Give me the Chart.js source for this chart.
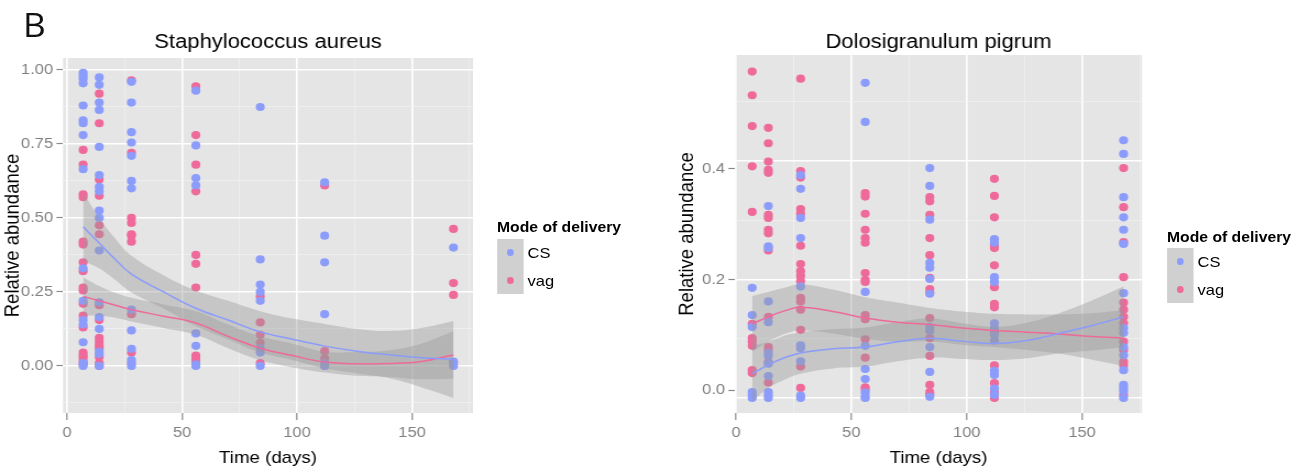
<!DOCTYPE html>
<html>
<head>
<meta charset="utf-8">
<title>Relative abundance over time by mode of delivery</title>
<script src="https://cdn.jsdelivr.net/npm/chart.js@4.4.1/dist/chart.umd.min.js"></script>
<style>
  html, body { margin: 0; padding: 0; background: #fff; width: 1308px; height: 473px; overflow: hidden; }
  /* the figure is laid out on a 1189px grid and widened to the full page */
  #page { position: absolute; left: 0; top: 0; width: 1189px; height: 473px;
          transform: scaleX(1.1); transform-origin: 0 0;
          font-family: "Liberation Sans", Arial, sans-serif; }
  #page canvas { position: absolute; top: 0; }
  #tag { position: absolute; left: 21px; top: 9px; font: 32px/32px "Open Sans", sans-serif; color: #111; }
  .lg-title { position: absolute; font-weight: bold; font-size: 14.3px; line-height: 14.3px; color: #000; white-space: nowrap; }
  .lg-key { position: absolute; width: 24.5px; height: 27.5px; background: #d0d0d0; }
  .lg-dot { position: absolute; left: 50%; top: 50%; width: 6.6px; height: 6.6px; margin: -3.3px 0 0 -3.3px; border-radius: 50%; }
  .lg-label { position: absolute; font-size: 15px; line-height: 15px; color: #000; white-space: nowrap; }
</style>
</head>
<body>
<div id="page">
  <div id="tag">B</div>
  <canvas id="aureus" width="436" height="473" style="left:0;width:436px;height:473px"></canvas>
  <canvas id="pigrum" width="436" height="473" style="left:609px;width:436px;height:473px"></canvas>
</div>
<script>
Chart.defaults.font.family = '"Liberation Sans", Arial, sans-serif';

// ---- sampling design ----
const days = [7, 14, 28, 56, 84, 112, 168];
const groups = ['CS', 'vag'];
const groupColors = ['#8b9cfb', '#ee6a9a'];
const xTickValues = [0, 50, 100, 150];

// ---- Staphylococcus aureus: relative abundance per sample, one list per day ----
const aureusCS = [
  [0.99, 0.98, 0.97, 0.955, 0.88, 0.83, 0.82, 0.78, 0.665, 0.33, 0.22, 0.155, 0.14, 0.08, 0.01, 0.0],
  [0.975, 0.95, 0.89, 0.865, 0.74, 0.645, 0.605, 0.59, 0.525, 0.5, 0.39, 0.215, 0.165, 0.125, 0.048, 0.04, 0.0],
  [0.96, 0.89, 0.79, 0.755, 0.71, 0.625, 0.6, 0.19, 0.12, 0.058, 0.02, 0.0],
  [0.93, 0.745, 0.635, 0.61, 0.11, 0.068, 0.005, 0.0],
  [0.875, 0.36, 0.275, 0.25, 0.22, 0.06, 0.045, 0.0],
  [0.62, 0.44, 0.35, 0.175, 0.01, 0.0],
  [0.4, 0.015, 0.0]
];
const aureusVag = [
  [0.73, 0.68, 0.58, 0.57, 0.42, 0.41, 0.35, 0.32, 0.265, 0.255, 0.21, 0.17, 0.13, 0.045, 0.035, 0.027, 0.015, 0.005],
  [0.92, 0.82, 0.63, 0.575, 0.475, 0.445, 0.205, 0.155, 0.095, 0.083, 0.07, 0.06, 0.03, 0.01, 0.0],
  [0.965, 0.72, 0.5, 0.483, 0.445, 0.44, 0.42, 0.175, 0.045, 0.01],
  [0.945, 0.78, 0.68, 0.59, 0.375, 0.345, 0.265, 0.035, 0.025, 0.015],
  [0.235, 0.147, 0.105, 0.078, 0.01],
  [0.61, 0.05, 0.025, 0.0],
  [0.463, 0.28, 0.24, 0.01]
];

// ---- Dolosigranulum pigrum: relative abundance per sample, one list per day ----
const pigrumCS = [
  [0.186, 0.14, 0.12, 0.01, 0.005, 0.0],
  [0.324, 0.256, 0.253, 0.163, 0.128, 0.076, 0.071, 0.058, 0.037, 0.01, 0.005, 0.0],
  [0.376, 0.353, 0.304, 0.27, 0.188, 0.089, 0.084, 0.062, 0.004, 0.0],
  [0.532, 0.466, 0.179, 0.088, 0.049, 0.032, 0.009, 0.002, 0.0],
  [0.388, 0.358, 0.301, 0.228, 0.22, 0.201, 0.176, 0.12, 0.113, 0.086, 0.044, 0.002],
  [0.268, 0.262, 0.204, 0.196, 0.126, 0.118, 0.107, 0.097, 0.046, 0.039, 0.016, 0.005],
  [0.435, 0.412, 0.339, 0.305, 0.284, 0.26, 0.177, 0.118, 0.11, 0.086, 0.072, 0.047, 0.022, 0.017, 0.012, 0.0]
];
const pigrumVag = [
  [0.551, 0.511, 0.459, 0.391, 0.314, 0.125, 0.101, 0.095, 0.088, 0.047, 0.042],
  [0.456, 0.43, 0.399, 0.385, 0.38, 0.309, 0.304, 0.284, 0.278, 0.249, 0.137, 0.086, 0.081, 0.06, 0.026],
  [0.539, 0.383, 0.372, 0.319, 0.311, 0.257, 0.226, 0.214, 0.206, 0.197, 0.169, 0.163, 0.149, 0.115, 0.053, 0.017],
  [0.346, 0.34, 0.311, 0.284, 0.27, 0.262, 0.211, 0.199, 0.196, 0.14, 0.133, 0.099, 0.068, 0.018, 0.014],
  [0.339, 0.332, 0.309, 0.27, 0.241, 0.203, 0.184, 0.178, 0.135, 0.101, 0.071, 0.022, 0.01, 0.006],
  [0.37, 0.341, 0.305, 0.258, 0.253, 0.224, 0.187, 0.159, 0.153, 0.111, 0.055, 0.025, 0.009, 0.0],
  [0.388, 0.322, 0.263, 0.204, 0.161, 0.149, 0.137, 0.126, 0.095, 0.081, 0.061, 0.055, 0.005]
];

// ---- loess trends and their standard-error half widths on a day grid ----
const fitDays = [7, 14, 21, 28, 42, 56, 70, 84, 98, 112, 126, 140, 154, 168];
const aureusFitCS  = [0.47, 0.415, 0.36, 0.31, 0.25, 0.195, 0.155, 0.115, 0.09, 0.067, 0.05, 0.038, 0.028, 0.022];
const aureusSeCS   = [0.115, 0.085, 0.07, 0.062, 0.056, 0.06, 0.065, 0.07, 0.07, 0.075, 0.075, 0.08, 0.1, 0.13];
const aureusFitVag = [0.235, 0.22, 0.205, 0.19, 0.168, 0.145, 0.1, 0.06, 0.035, 0.013, 0.007, 0.008, 0.015, 0.037];
const aureusSeVag  = [0.065, 0.05, 0.042, 0.04, 0.04, 0.04, 0.04, 0.04, 0.04, 0.035, 0.04, 0.045, 0.06, 0.08];
const pigrumFitCS  = [0.041, 0.056, 0.068, 0.076, 0.083, 0.086, 0.095, 0.101, 0.096, 0.092, 0.097, 0.109, 0.122, 0.137];
const pigrumSeCS   = [0.047, 0.039, 0.037, 0.035, 0.033, 0.033, 0.033, 0.033, 0.03, 0.028, 0.03, 0.034, 0.042, 0.051];
const pigrumFitVag = [0.125, 0.137, 0.147, 0.153, 0.146, 0.135, 0.128, 0.124, 0.118, 0.114, 0.111, 0.108, 0.104, 0.101];
const pigrumSeVag  = [0.047, 0.042, 0.039, 0.039, 0.037, 0.035, 0.033, 0.028, 0.028, 0.028, 0.03, 0.033, 0.039, 0.047];

// ---- y tick labels ----
const aureusYTicks = [0, 0.25, 0.5, 0.75, 1.0];
const pigrumYTicks = [0, 0.2, 0.4];

const isMultiple = (v, step) => Math.abs(v / step - Math.round(v / step)) < 1e-6;

// grey panel behind the grid
const panelBackground = {
  id: 'panelBackground',
  beforeDraw(chart) {
    const { ctx, chartArea: a } = chart;
    ctx.save();
    ctx.fillStyle = '#e5e5e5';
    ctx.fillRect(a.left, a.top, a.right - a.left, a.bottom - a.top);
    ctx.restore();
  }
};

function gridOptions(majorStep, withTicks, tickLength) {
  const major = c => c.tick && isMultiple(c.tick.value, majorStep);
  return {
    color: c => major(c) ? '#ffffff' : '#f3f3f3',
    lineWidth: c => major(c) ? 1.6 : 0.6,
    drawTicks: withTicks,
    tickLength: tickLength,
    tickWidth: 1.2,
    tickColor: c => major(c) ? '#8a8a8a' : 'rgba(0,0,0,0)'
  };
}

function drawPanel(cfg) {
  const datasets = [];
  // confidence ribbons
  groups.forEach((g, gi) => {
    const fit = cfg.fit[gi], se = cfg.se[gi];
    datasets.push({ type: 'line', yAxisID: 'y', data: fitDays.map((d, i) => ({ x: d, y: fit[i] + se[i] })),
      fill: '+1', backgroundColor: 'rgba(153,153,153,0.4)', borderColor: 'rgba(0,0,0,0)', borderWidth: 0,
      pointRadius: 0, tension: 0.4, order: 1 });
    datasets.push({ type: 'line', yAxisID: 'y', data: fitDays.map((d, i) => ({ x: d, y: fit[i] - se[i] })),
      fill: false, borderColor: 'rgba(0,0,0,0)', borderWidth: 0, pointRadius: 0, tension: 0.4, order: 1 });
  });
  // trend lines
  groups.forEach((g, gi) => {
    datasets.push({ type: 'line', label: g, yAxisID: 'y', data: fitDays.map((d, i) => ({ x: d, y: cfg.fit[gi][i] })),
      fill: false, borderColor: groupColors[gi], borderWidth: 1.5, pointRadius: 0, tension: 0.4, order: 0 });
  });
  // samples
  groups.forEach((g, gi) => {
    const pts = [];
    days.forEach((d, di) => cfg.values[gi][di].forEach(v => pts.push({ x: d, y: v })));
    datasets.push({ type: 'scatter', label: g, yAxisID: 'y', data: pts,
      backgroundColor: groupColors[gi], borderColor: groupColors[gi], borderWidth: 0,
      pointRadius: 4.1, pointHoverRadius: 4.1, order: 2 });
  });

  new Chart(document.getElementById(cfg.canvas), {
    type: 'scatter',
    data: { datasets },
    plugins: [panelBackground],
    options: {
      responsive: false, animation: false, events: [],
      layout: { padding: { left: 0, right: cfg.padRight, top: 0, bottom: 0 } },
      plugins: {
        legend: { display: false },
        tooltip: { enabled: false },
        title: { display: true, text: cfg.title, color: '#000', fullSize: false,
                 font: { size: 20, weight: 'normal' }, padding: { top: 30, bottom: cfg.titlePadBottom } }
      },
      scales: {
        x: {
          type: 'linear', min: cfg.xMin, max: cfg.xMax,
          ticks: { stepSize: 25, includeBounds: false, autoSkip: false, maxRotation: 0,
                   color: '#7f7f7f', font: { size: 15 }, padding: 3.5,
                   callback: v => xTickValues.includes(v) ? String(v) : '' },
          grid: gridOptions(50, true, 7),
          border: { display: false },
          title: { display: true, text: 'Time (days)', color: '#000', font: { size: 17 }, padding: { top: 0, bottom: 4 } },
          afterFit: s => { s.height = 60; }
        },
        y: {
          type: 'linear', position: 'left', weight: 0, min: cfg.yMin, max: cfg.yMax,
          ticks: { display: false, stepSize: cfg.yStep, includeBounds: false },
          grid: gridOptions(cfg.yMajor, false, 0),
          border: { display: false },
          afterFit: s => { s.width = 0; }
        },
        yl: {
          type: 'linear', position: 'left', weight: 1, min: cfg.labMin, max: cfg.labMax,
          afterBuildTicks: s => { s.ticks = cfg.yTicks.map(v => ({ value: v })); },
          ticks: { color: '#7f7f7f', font: { size: 15 }, padding: 3, autoSkip: false,
                   callback: v => Number(v).toFixed(cfg.dec) },
          grid: { drawOnChartArea: false, drawTicks: true, tickLength: 6, tickWidth: 1.2,
                  tickColor: '#8a8a8a', color: 'rgba(0,0,0,0)' },
          border: { display: false },
          title: { display: true, text: 'Relative abundance', color: '#000', font: { size: 18.5 },
                   padding: { top: cfg.yTitlePad, bottom: 0 } },
          afterFit: s => { s.width = cfg.plotLeft; }
        }
      }
    }
  });
}

function drawLegend(x, titleTop, keyTop) {
  const page = document.getElementById('page');
  const t = document.createElement('div');
  t.className = 'lg-title';
  t.textContent = 'Mode of delivery';
  t.style.left = x + 'px';
  t.style.top = titleTop + 'px';
  page.appendChild(t);
  groups.forEach((g, gi) => {
    const top = keyTop + gi * 27.5;
    const k = document.createElement('div');
    k.className = 'lg-key';
    k.style.left = x + 'px';
    k.style.top = top + 'px';
    const d = document.createElement('div');
    d.className = 'lg-dot';
    d.style.background = groupColors[gi];
    k.appendChild(d);
    page.appendChild(k);
    const l = document.createElement('div');
    l.className = 'lg-label';
    l.textContent = g;
    l.style.left = (x + 27.8) + 'px';
    l.style.top = (top + 13.75 - 7.3) + 'px';
    page.appendChild(l);
  });
}

drawPanel({
  canvas: 'aureus', title: 'Staphylococcus aureus',
  plotLeft: 57.3, padRight: 6, titlePadBottom: 4, yTitlePad: 0.7,
  xMin: -1.74, xMax: 176.5,
  yMin: -0.159, yMax: 1.0405, yStep: 0.125, yMajor: 0.25,
  labMin: -0.159, labMax: 1.0405, yTicks: aureusYTicks, dec: 2,
  values: [aureusCS, aureusVag],
  fit: [aureusFitCS, aureusFitVag], se: [aureusSeCS, aureusSeVag]
});

drawPanel({
  canvas: 'pigrum', title: 'Dolosigranulum pigrum',
  plotLeft: 59.2, padRight: 6.8, titlePadBottom: 1, yTitlePad: 5.3,
  xMin: -0.43, xMax: 176,
  yMin: -0.0253, yMax: 0.5789, yStep: 0.1, yMajor: 0.2,
  labMin: -0.0416, labMax: 0.6063, yTicks: pigrumYTicks, dec: 1,
  values: [pigrumCS, pigrumVag],
  fit: [pigrumFitCS, pigrumFitVag], se: [pigrumSeCS, pigrumSeVag]
});

drawLegend(451.8, 220, 239);
drawLegend(1060.9, 230, 248);
</script>
</body>
</html>
